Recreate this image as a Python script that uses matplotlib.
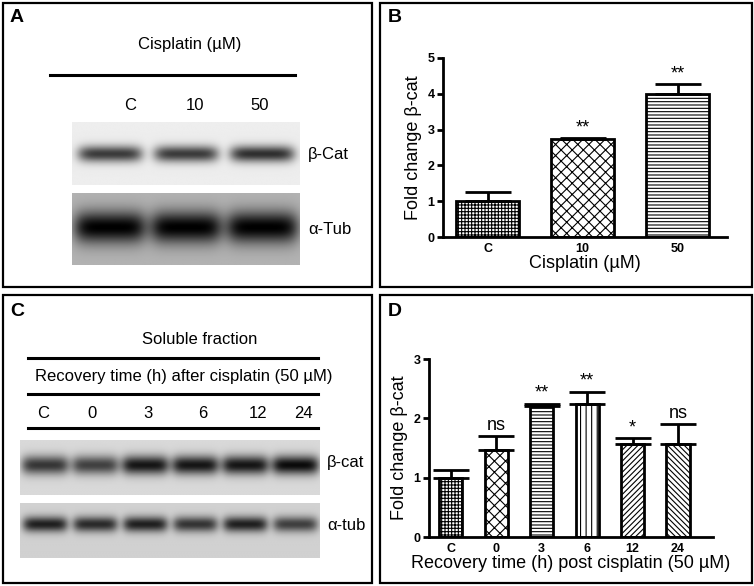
import numpy as np
import matplotlib
matplotlib.use("Agg")
from matplotlib import pyplot as plt
from matplotlib.patches import Rectangle

plt.rcParams['font.family'] = 'Liberation Sans'
plt.rcParams['hatch.linewidth'] = 0.8

# panel B data
b_cats = ['C', '10', '50']
b_vals = [1.0, 2.75, 4.0]
b_err = [0.25, 0.02, 0.28]
b_sig = ['', '**', '**']
b_hatch = ['+++++', 'xxx', '-----']

# panel D data
d_cats = ['C', '0', '3', '6', '12', '24']
d_vals = [1.0, 1.47, 2.2, 2.25, 1.57, 1.57]
d_err = [0.13, 0.23, 0.05, 0.2, 0.1, 0.33]
d_sig = ['', 'ns', '**', '**', '*', 'ns']
d_hatch = ['+++++', 'xxx', '-----', '|||', '//////', '\\\\\\\\\\\\']

# blot band intensities (0..1, darkness)
a_bcat = [0.75, 0.75, 0.8]
a_tub = [1.0, 1.0, 1.0]
c_bcat = [0.75, 0.7, 0.9, 0.9, 0.9, 0.95]
c_tub = [0.85, 0.8, 0.85, 0.75, 0.85, 0.7]

fig = plt.figure(figsize=(7.54, 5.86), dpi=100)
bg = fig.add_axes([0, 0, 1, 1])
bg.set_xlim(0, 754)
bg.set_ylim(586, 0)
bg.axis('off')

for (x0, y0, x1, y1) in [(3, 3, 372, 287), (380, 3, 752, 287),
                         (3, 295, 372, 583), (380, 295, 752, 583)]:
    bg.add_patch(Rectangle((x0, y0), x1 - x0, y1 - y0, fill=False, lw=1.6, ec='black'))

for lab, x, y in [('A', 10, 18), ('B', 388, 18), ('C', 10, 312), ('D', 388, 312)]:
    bg.text(x, y, lab, fontsize=14, fontweight='bold', va='center')


def blot(ints, extent, base, band_h, band_w, sigma_y):
    h, w = 80, 400
    yy, xx = np.mgrid[0:h, 0:w]
    img = np.full((h, w), base, dtype=float)
    n = len(ints)
    for i, v in enumerate(ints):
        cx = (i + 0.5) * w / n
        prof_x = np.exp(-((xx - cx) / (band_w * w / n / 2)) ** 6)
        prof_y = np.exp(-((yy - h * band_h) / (h * sigma_y)) ** 2)
        img = img - v * prof_x * prof_y * base
    img = np.clip(img, 0, 1)
    bg.imshow(img, cmap='gray', vmin=0, vmax=1, extent=extent, aspect='auto', zorder=1)


# panel A
bg.text(190, 45, 'Cisplatin (µM)', fontsize=12, ha='center', va='center')
bg.plot([50, 295], [75, 75], color='black', lw=2.2)
for lab, x in zip(['C', '10', '50'], [130, 195, 260]):
    bg.text(x, 105, lab, fontsize=12, ha='center', va='center')
blot(a_bcat, (72, 300, 185, 122), 0.93, 0.5, 0.85, 0.13)
blot(a_tub, (72, 300, 265, 193), 0.7, 0.47, 0.95, 0.22)
bg.text(308, 155, 'β-Cat', fontsize=12, va='center')
bg.text(308, 230, 'α-Tub', fontsize=12, va='center')

# panel C
bg.text(200, 340, 'Soluble fraction', fontsize=12, ha='center', va='center')
bg.plot([28, 318], [358, 358], color='black', lw=2.2)
bg.text(35, 377, 'Recovery time (h) after cisplatin (50 µM)', fontsize=12, va='center')
bg.plot([28, 318], [394, 394], color='black', lw=2.2)
for lab, x in zip(['C', '0', '3', '6', '12', '24'], [43, 92, 148, 203, 258, 303]):
    bg.text(x, 413, lab, fontsize=12, ha='center', va='center')
bg.plot([28, 318], [428, 428], color='black', lw=2.2)
blot(c_bcat, (20, 320, 495, 440), 0.85, 0.45, 0.95, 0.17)
blot(c_tub, (20, 320, 558, 503), 0.82, 0.38, 0.9, 0.14)
bg.text(327, 463, 'β-cat', fontsize=12, va='center')
bg.text(327, 525, 'α-tub', fontsize=12, va='center')


def bars(rect, cats, vals, err, sig, hatches, width, xlim, ymax, yticks, xlabel, sig_size):
    ax = fig.add_axes(rect)
    x = np.arange(len(cats))
    ax.bar(x, vals, width=width, color='white', edgecolor='black', lw=2,
           hatch=hatches, zorder=2)
    ax.errorbar(x, vals, yerr=[np.zeros(len(err)), err], fmt='none', ecolor='black',
                elinewidth=2, capsize=width * 25, capthick=2, zorder=3)
    for xi, v, e, s in zip(x, vals, err, sig):
        if s:
            ax.text(xi, v + e + ymax * 0.01, s, ha='center', va='bottom',
                    fontsize=sig_size)
    ax.set_xlim(*xlim)
    ax.set_ylim(0, ymax)
    ax.set_yticks(yticks)
    ax.set_xticks(x)
    ax.set_xticklabels(cats, fontweight='bold', fontsize=9)
    for t in ax.get_yticklabels():
        t.set_fontweight('bold')
        t.set_fontsize(9)
    ax.spines['top'].set_visible(False)
    ax.spines['right'].set_visible(False)
    ax.spines['left'].set_linewidth(2)
    ax.spines['bottom'].set_linewidth(2)
    ax.tick_params(axis='x', length=0, pad=4)
    ax.tick_params(axis='y', width=2, length=4, pad=2)
    ax.set_ylabel('Fold change β-cat', fontsize=13, labelpad=4)
    ax.set_xlabel(xlabel, fontsize=13, labelpad=0)
    return ax


# pixel rects -> figure fractions
def frac(x0, y0, x1, y1):
    return [x0 / 754, 1 - y1 / 586, (x1 - x0) / 754, (y1 - y0) / 586]


bars(frac(443, 58, 727, 237), b_cats, b_vals, b_err, b_sig, b_hatch, 0.67,
     (-0.47, 2.52), 5, range(6), 'Cisplatin (µM)', 13)
bars(frac(429, 359, 713, 537), d_cats, d_vals, d_err, d_sig, d_hatch, 0.51,
     (-0.48, 5.77), 3, range(4), 'Recovery time (h) post cisplatin (50 µM)', 13)

fig.savefig('out.png', dpi=100)
